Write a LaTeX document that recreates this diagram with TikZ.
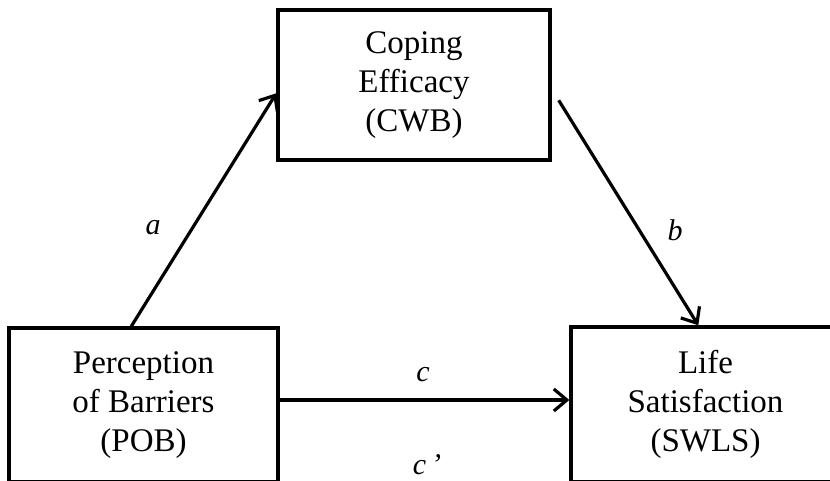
\documentclass[tikz,border=0pt]{standalone}
\usepackage{fontspec}
\setmainfont{Liberation Serif}
\usetikzlibrary{arrows.meta,positioning,calc}

\begin{document}
\begin{tikzpicture}[x=1pt, y=1pt,
  varbox/.style={draw, line width=3.4pt, align=center,
    font=\fontsize{33}{39}\selectfont, inner sep=0pt},
  path/.style={line width=3.2pt, -{Straight Barb[length=13pt, width=22pt, line width=3.2pt]}},
  coef/.style={font=\fontsize{30}{36}\selectfont\itshape}]
  \useasboundingbox (0,0) rectangle (830,481);

  % Variables
  \node[varbox, minimum width=272pt, minimum height=150pt]
    (cwb) at (414,396) {Coping\\Efficacy\\(CWB)};
  \node[varbox, minimum width=269pt, minimum height=154pt]
    (pob) at (143.5,76) {Perception\\of Barriers\\(POB)};
  \node[varbox, minimum width=269pt, minimum height=155pt]
    (swls) at (705.5,76.5) {Life\\Satisfaction\\(SWLS)};

  % Paths
  \draw[path] ($(pob.north west)+(124,0)$) -- ($(cwb.north west)+(0,-85)$);
  \draw[path] ($(cwb.north east)+(7,-92)$) -- ($(swls.north west)+(129,0)$);
  \draw[path] ($(pob.east)+(0,5)$) -- ($(swls.west)+(0,4.5)$);

  % Coefficients
  \node[coef] (a) at (153,253) {a};
  \node[coef] (b) at (675,251) {b};
  \node[coef] (c) at (423,106) {c};
  \node[coef] (cp) at (427,16) {c\,’};

\end{tikzpicture}
\end{document}
